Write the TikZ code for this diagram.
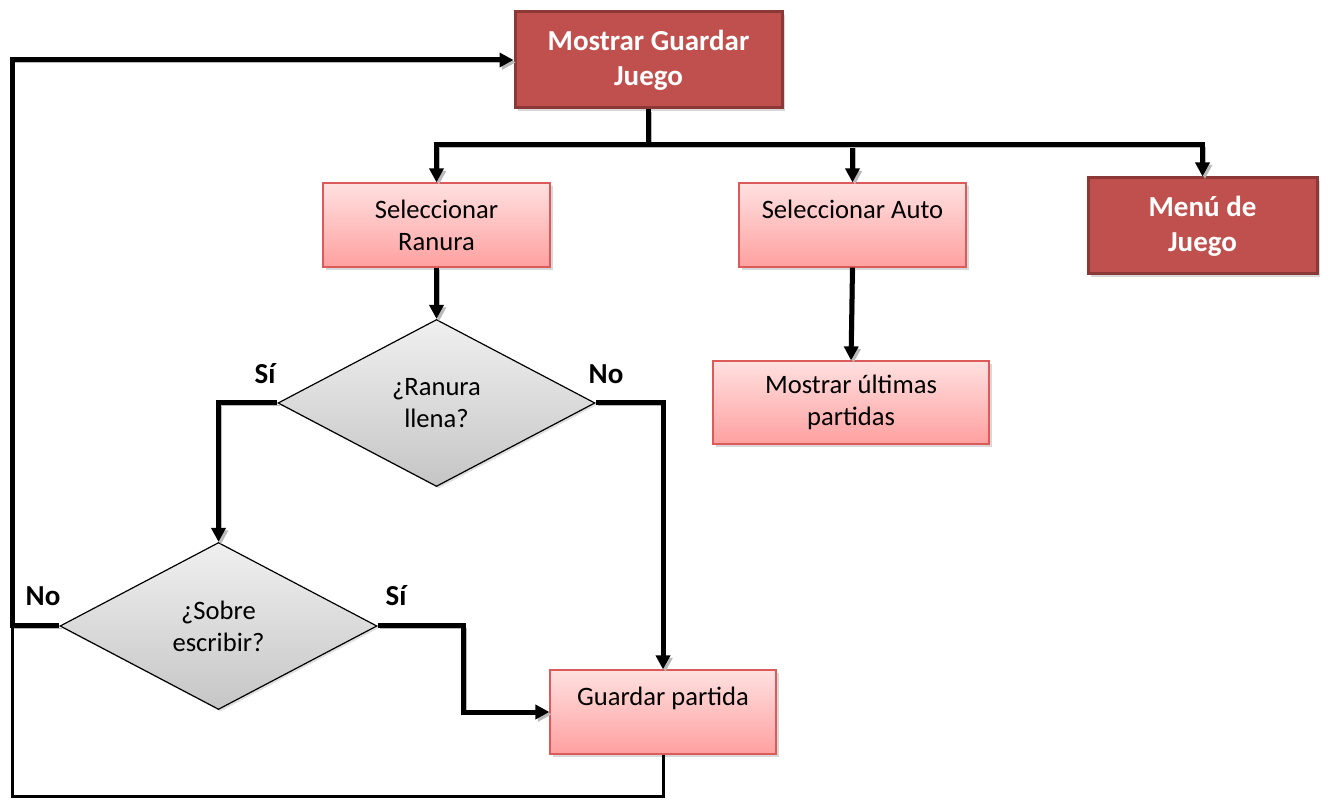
\documentclass[tikz,border=0pt]{standalone}
\usepackage{fontspec}
\setmainfont{Carlito}
\usepackage{xcolor}
\usepackage{tikz}
\usetikzlibrary{positioning}
\usetikzlibrary{shapes.geometric}
\usetikzlibrary{shadows}
\usetikzlibrary{arrows.meta}

\definecolor{dkred}{RGB}{192,80,77}
\definecolor{dkrim}{RGB}{140,56,54}
\definecolor{ltrim}{RGB}{220,90,90}
\definecolor{lttop}{RGB}{255,224,224}
\definecolor{ltbot}{RGB}{255,160,160}

\begin{document}
\begin{tikzpicture}
  [ x=0.5pt, y=-0.5pt,
    >={Triangle[length=7pt,width=7pt]},
    hdr/.style={rectangle, fill=dkred, draw=dkrim, line width=1.5pt,
      text=white, font=\fontsize{14.5}{17.5}\selectfont\bfseries,
      align=center, drop shadow={shadow xshift=1.5pt, shadow yshift=-1.5pt, fill=gray!60}},
    act/.style={rectangle, top color=lttop, bottom color=ltbot, draw=ltrim, line width=0.6pt,
      font=\fontsize{13.3}{16}\selectfont, align=center, minimum width=113.5pt, minimum height=42pt,
      drop shadow={shadow xshift=1.5pt, shadow yshift=-1.5pt, fill=gray!60}},
    ask/.style={diamond, top color=gray!12, bottom color=gray!45, draw=black, line width=0.6pt,
      font=\fontsize{13.3}{16}\selectfont, align=center, inner sep=0pt,
      minimum width=158.5pt, minimum height=83.5pt,
      drop shadow={shadow xshift=1pt, shadow yshift=-1pt, fill=gray!50}},
    lnk/.style={line width=2.5pt,
      preaction={draw=gray!55, transform canvas={xshift=1.2pt,yshift=-1.2pt}}},
    lbl/.style={font=\fontsize{14.5}{17}\selectfont\bfseries}
  ]
  \useasboundingbox (0,0) rectangle (1328,801);

  \node (mgj) at (648.5,60)  [hdr, minimum width=133.5pt, minimum height=48pt] {Mostrar Guardar\\Juego};
  \node (mj)  at (1202.5,226) [hdr, minimum width=114.5pt, minimum height=48pt] {Menú de\\Juego};

  \node (sr) at (436.5,225) [act] {Seleccionar\\Ranura};
  \node (sa) at (852.5,225) [act] {Seleccionar Auto\\\mbox{}};
  \node (mu) at (851,402.5) [act, minimum width=138pt, minimum height=41.5pt] {Mostrar últimas\\partidas};
  \node (gp) at (663,712)   [act, minimum width=113pt] {Guardar partida\\\mbox{}};

  \node (d1) at (436.5,403) [ask] {¿Ranura\\llena?};
  \node (d2) at (218.5,626) [ask] {¿Sobre\\escribir?};

  \node (s1) at (265,374) [lbl] {Sí};
  \node (n1) at (606,374) [lbl] {No};
  \node (s2) at (396,596) [lbl] {Sí};
  \node (n2) at (43,596)  [lbl] {No};

  \coordinate (bus) at (648.5,145);
  \coordinate (lft) at (12,626);

  \draw [lnk] (mgj.south) -- (bus);
  \draw [lnk, ->] (bus) -| (sr.north);
  \draw [lnk, ->] (bus) -| (sa.north);
  \draw [lnk, ->] (bus) -| (mj.north);

  \draw [lnk, ->] (sr.south) -- (d1.north);
  \draw [lnk, ->] (sa.south) -- (mu.north);

  \draw [lnk, ->] (d1.west) -| (d2.north);
  \draw [lnk, ->] (d1.east) -| (gp.north);
  \draw [lnk, ->] (d2.east) -- ++(86,0) |- (gp.west);
  \draw [lnk, ->] (d2.west) -- (lft) |- (mgj.west);

  \draw [line width=1.5pt] (gp.south) -- ++(0,42) -| (lft);
\end{tikzpicture}
\end{document}
